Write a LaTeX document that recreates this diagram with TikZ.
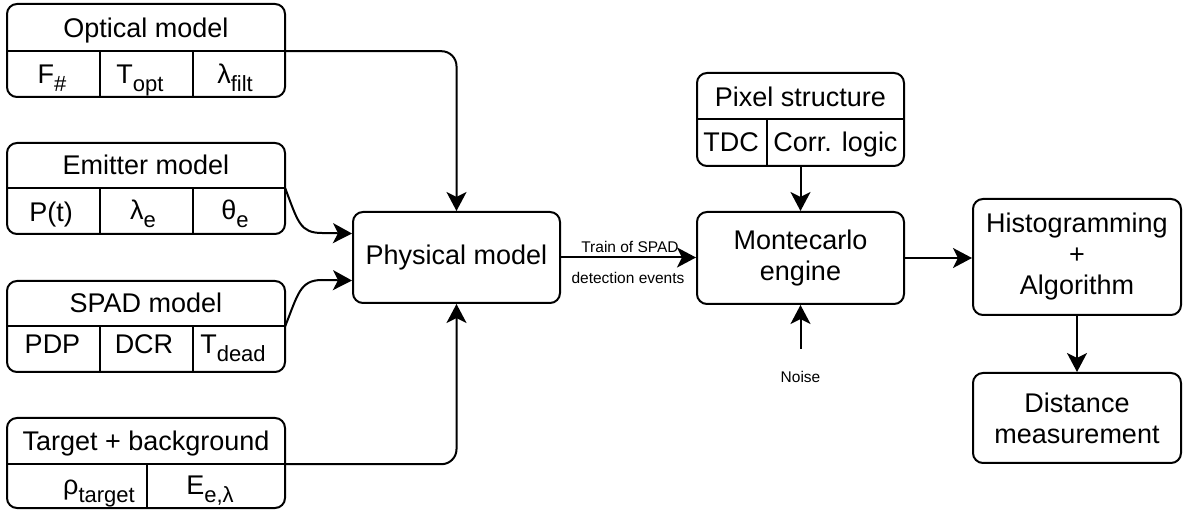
\documentclass[tikz,border=0pt]{standalone}
\usepackage{fontspec}
\setmainfont{Liberation Sans}
\usetikzlibrary{arrows.meta}
% lowered, smaller subscript
\newcommand\lowsub[1]{\raisebox{-8pt}{\fontsize{22}{22}\selectfont #1}}

\begin{document}
\begin{tikzpicture}[x=1pt,y=-1pt,
  every node/.style={font=\fontsize{27}{31}\selectfont, inner sep=0pt},
  box/.style={draw, line width=2pt, rounded corners=10pt, align=center},
  txt/.style={anchor=base},
  small/.style={font=\fontsize{15.5}{18}\selectfont, anchor=base},
  divider/.style={line width=2pt},
  arr/.style={line width=2pt, -{Stealth[length=19pt,width=20pt,inset=5pt]}},
]
\useasboundingbox[fill=white] (0,0) rectangle (1192,510);

% ---- Optical model
\node[box, minimum width=278pt, minimum height=93pt] (optical) at (146,50.5) {};
\node[minimum width=278pt, minimum height=47pt] (opthead) at (146,27.5) {};
\node[txt] (optname) at (146,37.5) {Optical model};
\draw[divider] (opthead.south west) -- (opthead.south east);
\draw[divider] (100,51) -- (100,97);
\draw[divider] (193,51) -- (193,97);
\node[txt] (optF) at (52,84) {F\lowsub{\#}};
\node[txt] (optT) at (140,84) {T\lowsub{opt}};
\node[txt] (optL) at (235,84) {λ\lowsub{filt}};

% ---- Emitter model
\node[box, minimum width=278pt, minimum height=91pt] (emitter) at (146,188.5) {};
\node[minimum width=278pt, minimum height=45pt] (emhead) at (146,165.5) {};
\node[txt] (emname) at (146,175) {Emitter model};
\draw[divider] (emhead.south west) -- (emhead.south east);
\draw[divider] (100,188) -- (100,234);
\draw[divider] (193,188) -- (193,234);
\node[txt] (emP) at (51,222) {P(t)};
\node[txt] (emL) at (143,220) {λ\lowsub{e}};
\node[txt] (emT) at (235,220) {θ\lowsub{e}};

% ---- SPAD model
\node[box, minimum width=278pt, minimum height=91pt] (spad) at (146,326.5) {};
\node[minimum width=278pt, minimum height=45pt] (spadhead) at (146,303.5) {};
\node[txt] (spadname) at (146,313) {SPAD model};
\draw[divider] (spadhead.south west) -- (spadhead.south east);
\draw[divider] (100,326) -- (100,372);
\draw[divider] (193,326) -- (193,372);
\node[txt] (spadP) at (52.5,354) {PDP};
\node[txt] (spadD) at (144,354) {DCR};
\node[txt] (spadT) at (233,354) {T\lowsub{dead}};

% ---- Target + background
\node[box, minimum width=278pt, minimum height=90pt] (target) at (146,463) {};
\node[minimum width=278pt, minimum height=46pt] (tghead) at (146,441) {};
\node[txt] (tgname) at (146,451) {Target + background};
\draw[divider] (tghead.south west) -- (tghead.south east);
\draw[divider] (147,464) -- (147,508);
\node[txt] (tgR) at (99,494) {ρ\lowsub{target}};
\node[txt] (tgE) at (210,494) {E\lowsub{e,λ}};

% ---- Pixel structure
\node[box, minimum width=207pt, minimum height=93pt] (pixel) at (800.5,119.5) {};
\node[minimum width=207pt, minimum height=46pt] (pixhead) at (800.5,96) {};
\node[txt] (pixname) at (800.5,107) {Pixel structure};
\draw[divider] (pixhead.south west) -- (pixhead.south east);
\draw[divider] (767,119) -- (767,166);
\node[txt] (pixT) at (731,152) {TDC};
\node[txt] (pixC) at (835.5,152) {Corr. logic};

% ---- main blocks
\node[box, minimum width=207pt, minimum height=91pt] (phys) at (456.5,257.5) {Physical model};
\node[box, minimum width=207pt, minimum height=92pt] (mc) at (800.5,258) {Montecarlo\\engine};
\node[box, minimum width=208pt, minimum height=116pt] (hist) at (1077,257) {Histogramming\\+\\Algorithm};
\node[box, minimum width=208pt, minimum height=90pt] (dist) at (1077,418) {Distance\\measurement};

% ---- connectors
\draw[arr, rounded corners=15pt] (opthead.south east) -| (phys.north);
\draw[arr] (emhead.south east) .. controls (298,222) and (300,233) .. (322,233) -- ([yshift=24pt]phys.west);
\draw[arr] (spadhead.south east) .. controls (298,294) and (300,280) .. (322,280) -- ([yshift=-23pt]phys.west);
\draw[arr, rounded corners=15pt] (tghead.south east) -| (phys.south);

\draw[arr] (phys.east) -- (phys.east -| mc.west);
\node[small] (trainlbl) at (630,253) {Train of SPAD};
\node[small] (detlbl) at (628,284) {detection events};

\draw[arr] (pixel.south) -- (mc.north);
\coordinate (noisesrc) at (800.5,349);
\node[small] (noise) at (800.5,383) {Noise};
\draw[arr] (noisesrc) -- (mc.south);

\draw[arr] (mc.east) -- (mc.east -| hist.west);
\draw[arr] (hist.south) -- (dist.north);
\end{tikzpicture}
\end{document}
